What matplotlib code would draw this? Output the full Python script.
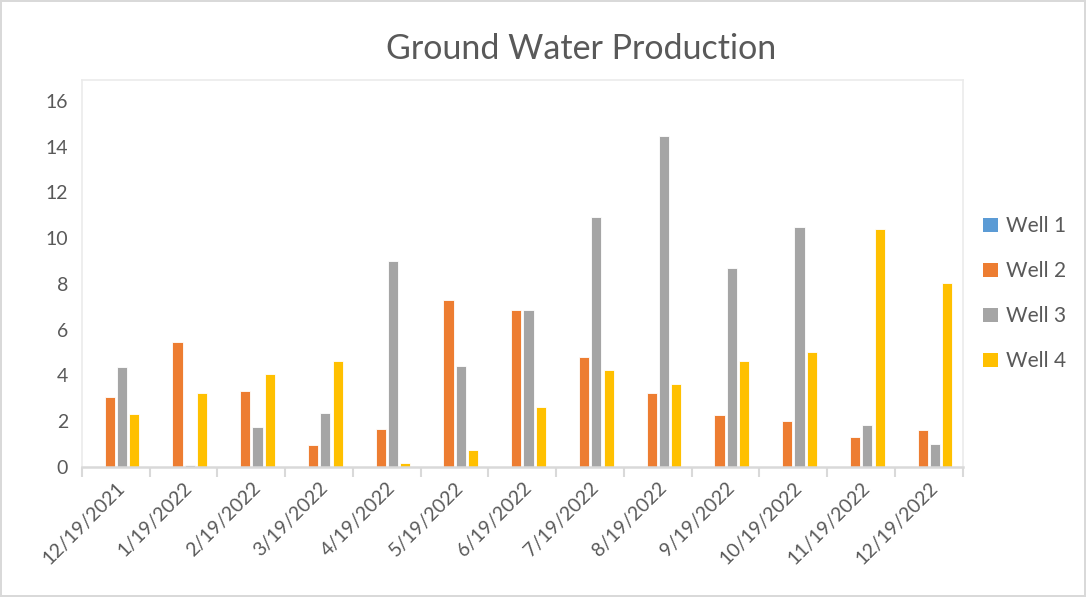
import matplotlib.pyplot as plt
import numpy as np
from matplotlib.patches import Patch

plt.rcParams["font.family"] = ["Lato", "DejaVu Sans"]

dates = ["12/19/2021", "1/19/2022", "2/19/2022", "3/19/2022", "4/19/2022",
         "5/19/2022", "6/19/2022", "7/19/2022", "8/19/2022", "9/19/2022",
         "10/19/2022", "11/19/2022", "12/19/2022"]
well1 = [0, 0, 0, 0, 0, 0, 0, 0, 0, 0, 0, 0, 0]
well2 = [3.04, 5.48, 3.32, 0.95, 1.67, 7.30, 6.88, 4.81, 3.23, 2.27, 2.00, 1.30, 1.60]
well3 = [4.38, 0.10, 1.75, 2.37, 9.02, 4.43, 6.86, 10.93, 14.47, 8.71, 10.48, 1.84, 0.99]
well4 = [2.32, 3.25, 4.06, 4.63, 0.16, 0.74, 2.61, 4.25, 3.63, 4.65, 5.04, 10.39, 8.04]

series = [("Well 1", well1, "#5B9BD5"), ("Well 2", well2, "#ED7D31"),
          ("Well 3", well3, "#A5A5A5"), ("Well 4", well4, "#FFC000")]

text_col = "#595959"
grid_col = "#D9D9D9"

fig = plt.figure(figsize=(10.86, 5.97), dpi=100)
fig.patch.set_edgecolor(grid_col)
fig.patch.set_linewidth(1.5)
ax = fig.add_axes([0.0755, 0.218, 0.811, 0.648])

x = np.arange(len(dates))
slot = 0.182
for i, (name, vals, col) in enumerate(series):
    ax.bar(x + (i - 1.5) * slot, vals, width=0.15, color=col,
           edgecolor="white", linewidth=0.6, label=name, zorder=2)

ax.set_xlim(-0.5, len(dates) - 0.5)
ax.set_ylim(0, 16.92)
ax.set_yticks(range(0, 17, 2))
ax.set_xticks(x)
ax.set_xticklabels(dates, rotation=45, ha="right", rotation_mode="anchor")
ax.set_xticks(np.arange(-0.5, len(dates), 1), minor=True)
ax.tick_params(axis="x", which="major", length=0, pad=9, labelsize=14, labelcolor=text_col)
ax.tick_params(axis="x", which="minor", length=7, width=1.5, color=grid_col)
ax.tick_params(axis="y", length=0, pad=10, labelsize=14, labelcolor=text_col)

for side in ["left", "right", "top"]:
    ax.spines[side].set_color("#EBEBEB")
    ax.spines[side].set_linewidth(1.2)
ax.spines["bottom"].set_color(grid_col)
ax.spines["bottom"].set_linewidth(1.8)

fig.text(0.535, 0.918, "Ground Water Production", ha="center", va="center",
         fontsize=24.5, color=text_col)

handles = [Patch(facecolor=c, label=n) for n, _, c in series]
leg = fig.legend(handles=handles, loc="center left", bbox_to_anchor=(0.888, 0.508),
                 frameon=False, fontsize=15, labelcolor=text_col,
                 handlelength=0.7, handleheight=0.7, handletextpad=0.4,
                 labelspacing=1.2)

fig.savefig("out.png", dpi=100)
